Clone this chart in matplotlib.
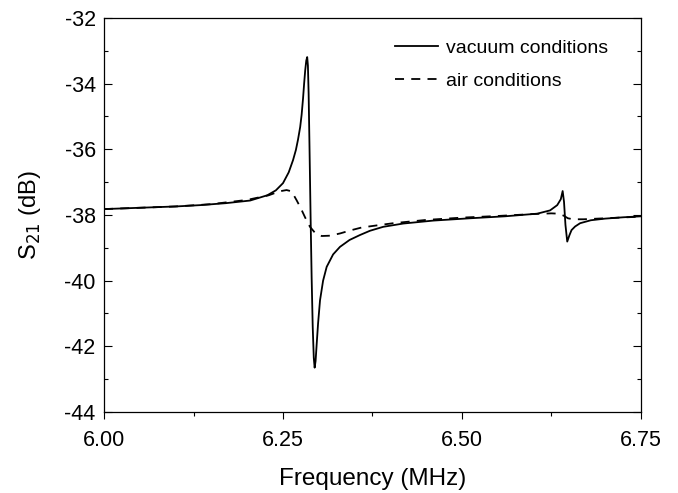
import matplotlib
matplotlib.use("Agg")
import matplotlib.pyplot as plt
from matplotlib.ticker import MultipleLocator

plt.rcParams['font.family'] = ['Liberation Sans', 'DejaVu Sans']
plt.rcParams['axes.unicode_minus'] = False

vac_f = [6.000, 6.05, 6.10, 6.134, 6.17, 6.204, 6.228, 6.24, 6.250, 6.258, 6.264,
         6.268, 6.271, 6.274, 6.276, 6.278, 6.2795, 6.281, 6.2825, 6.2838, 6.2848,
         6.2858, 6.2870, 6.2885, 6.2900, 6.2915, 6.2930, 6.2942, 6.2955, 6.2970,
         6.2990, 6.3017, 6.306, 6.311, 6.320, 6.3296, 6.343, 6.3575, 6.3715, 6.39,
         6.418, 6.46, 6.511, 6.56, 6.605, 6.623, 6.633, 6.638, 6.6406, 6.6425, 6.6445,
         6.647, 6.650, 6.653, 6.658, 6.665, 6.68, 6.70, 6.725, 6.75]
vac_db = [-37.82, -37.78, -37.74, -37.70, -37.64, -37.56, -37.40, -37.25, -37.03, -36.70,
          -36.33, -36.02, -35.70, -35.32, -34.95, -34.45, -34.00, -33.60, -33.30, -33.19,
          -33.45, -34.30, -35.90, -38.00, -39.90, -41.40, -42.35, -42.65, -42.45, -41.95,
          -41.30, -40.60, -40.00, -39.58, -39.20, -38.97, -38.76, -38.61, -38.48, -38.36,
          -38.26, -38.17, -38.10, -38.04, -37.96, -37.86, -37.70, -37.52, -37.27, -37.60,
          -38.30, -38.81, -38.62, -38.46, -38.35, -38.25, -38.16, -38.11, -38.07, -38.04]

air_f = [6.000, 6.05, 6.10, 6.15, 6.20, 6.23, 6.245, 6.255, 6.262, 6.269, 6.275, 6.281,
         6.2877, 6.295, 6.304, 6.316, 6.33, 6.344, 6.36, 6.38, 6.404, 6.45, 6.50, 6.55,
         6.60, 6.625, 6.635, 6.642, 6.648, 6.655, 6.67, 6.70, 6.75]
air_db = [-37.82, -37.78, -37.74, -37.67, -37.54, -37.40, -37.28, -37.24, -37.28, -37.55,
          -37.80, -38.08, -38.36, -38.55, -38.64, -38.63, -38.56, -38.47, -38.38, -38.32,
          -38.25, -38.15, -38.08, -38.03, -37.97, -37.95, -37.96, -38.02, -38.10, -38.13,
          -38.13, -38.10, -38.05]

x_ticks = [6.00, 6.25, 6.50, 6.75]
x_ticklabels = ['6.00', '6.25', '6.50', '6.75']
y_ticks = [-44, -42, -40, -38, -36, -34, -32]

fig = plt.figure(figsize=(6.78, 4.93), dpi=100)
ax = fig.add_axes([0.1534, 0.1643, 0.7920, 0.7992])

ax.plot(vac_f, vac_db, color='black', lw=1.3, label='vacuum conditions')
ax.plot(air_f, air_db, color='black', lw=1.3, linestyle=(0, (5, 4)), label='air conditions')

ax.set_xlim(6.00, 6.75)
ax.set_ylim(-44, -32)
ax.set_xticks(x_ticks)
ax.set_xticklabels(x_ticklabels)
ax.set_yticks(y_ticks)
ax.xaxis.set_minor_locator(MultipleLocator(0.125))
ax.yaxis.set_minor_locator(MultipleLocator(1))

ax.tick_params(axis='x', which='both', direction='out', top=False, labelsize=15.5, width=0.8, pad=8)
ax.tick_params(axis='x', which='major', length=5)
ax.tick_params(axis='x', which='minor', length=3)
ax.tick_params(axis='y', which='both', direction='in', right=True, labelsize=15.5, width=0.8, pad=6)
ax.tick_params(axis='y', which='major', length=5.5)
ax.tick_params(axis='y', which='minor', length=3)
for s in ax.spines.values():
    s.set_linewidth(0.9)

ax.set_xlabel('Frequency (MHz)', fontsize=17.5, labelpad=12)
ax.set_ylabel('S$_{21}$ (dB)', fontsize=17, labelpad=15)

ax.legend(loc='upper left', bbox_to_anchor=(0.542, 0.946), frameon=False, fontsize=14,
          handlelength=2.2, handletextpad=0.4, labelspacing=0.8, borderaxespad=0,
          borderpad=0)

fig.savefig('out.png', dpi=100)
